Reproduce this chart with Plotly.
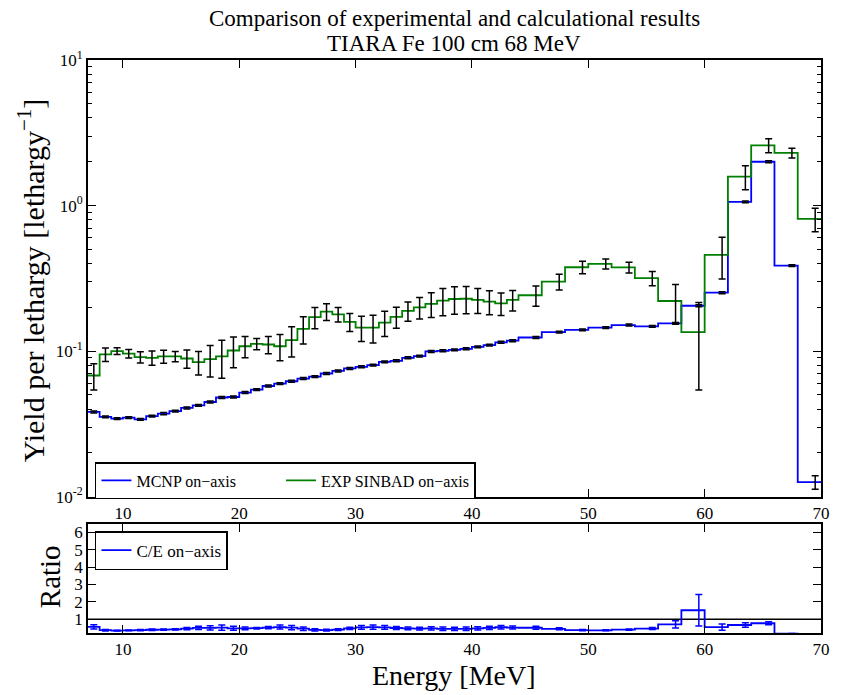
import math
import plotly.graph_objects as go

# Energy bin edges [MeV]: 1 MeV bins up to 44 MeV, 2 MeV bins above
bin_edges = [7, 8, 9, 10, 11, 12, 13, 14, 15, 16, 17, 18, 19, 20, 21, 22, 23, 24, 25,
             26, 27, 28, 29, 30, 31, 32, 33, 34, 35, 36, 37, 38, 39, 40, 41, 42, 43, 44,
             46, 48, 50, 52, 54, 56, 58, 60, 62, 64, 66, 68, 70]

# MCNP on-axis yield per lethargy and its uncertainty
mcnp_yield = [0.0382, 0.0353, 0.0344, 0.0349, 0.0340, 0.0358, 0.0372, 0.0387, 0.0407, 0.0424,
              0.0447, 0.0480, 0.0484, 0.0519, 0.0544, 0.0576, 0.0598, 0.0621, 0.0648, 0.0668,
              0.0702, 0.0731, 0.0760, 0.0780, 0.0801, 0.0844, 0.0858, 0.0900, 0.0924, 0.0995,
              0.1005, 0.1020, 0.1037, 0.1070, 0.1100, 0.1150, 0.1180,
              0.124, 0.135, 0.140, 0.145, 0.151, 0.148, 0.155, 0.205, 0.252, 1.06, 2.00, 0.387, 0.0126]
mcnp_err = [0.0006, 0.0005, 0.0005, 0.0005, 0.0005, 0.0005, 0.0006, 0.0006, 0.0006, 0.0006,
            0.0007, 0.0007, 0.0007, 0.0008, 0.0008, 0.0009, 0.0009, 0.0009, 0.0010, 0.0010,
            0.0011, 0.0011, 0.0011, 0.0012, 0.0012, 0.0013, 0.0013, 0.0014, 0.0014, 0.0015,
            0.0015, 0.0015, 0.0016, 0.0016, 0.0017, 0.0017, 0.0018,
            0.0019, 0.0020, 0.0021, 0.0022, 0.0023, 0.0022, 0.0023, 0.0031, 0.0038, 0.016, 0.030,
            0.0058, 0.00135]

# SINBAD experimental on-axis yield per lethargy and its uncertainty
exp_yield = [0.068, 0.095, 0.100, 0.096, 0.091, 0.090, 0.092, 0.092, 0.089, 0.084,
             0.088, 0.092, 0.101, 0.108, 0.112, 0.111, 0.108, 0.119, 0.142, 0.171,
             0.187, 0.179, 0.159, 0.145, 0.145, 0.157, 0.172, 0.189, 0.200, 0.211,
             0.222, 0.228, 0.229, 0.225, 0.219, 0.213, 0.225,
             0.242, 0.300, 0.377, 0.398, 0.376, 0.317, 0.221, 0.135, 0.459, 1.58, 2.59, 2.30, 0.809]
exp_err = [0.014, 0.010, 0.0053, 0.0064, 0.008, 0.010, 0.0093, 0.0074, 0.0128, 0.0155,
           0.0215, 0.027, 0.024, 0.018, 0.010, 0.015, 0.022, 0.028, 0.030, 0.0285,
           0.0245, 0.0205, 0.0225, 0.0285, 0.0315, 0.031, 0.0285, 0.0285, 0.034, 0.041,
           0.047, 0.0485, 0.0485, 0.044, 0.041, 0.0375, 0.036,
           0.0385, 0.0375, 0.0375, 0.031, 0.0315, 0.0355, 0.0655, 0.081, 0.146, 0.295, 0.285,
           0.175, 0.1475]

# error bars sit half an MeV below each bin's upper edge
err_x = [e - 0.5 for e in bin_edges[1:]]

# calculated-to-experimental ratio with propagated uncertainty
ratio = [c / e for c, e in zip(mcnp_yield, exp_yield)]
ratio_err = [r * math.sqrt((dc / c) ** 2 + (de / e) ** 2)
             for r, c, dc, e, de in zip(ratio, mcnp_yield, mcnp_err, exp_yield, exp_err)]

x_ticks = [10, 20, 30, 40, 50, 60, 70]
y_ticks = [0.01, 0.1, 1, 10]
y_ticktext = ["10<sup>-2</sup>", "10<sup>-1</sup>", "10<sup>0</sup>", "10<sup>1</sup>"]
ratio_ticks = [1, 2, 3, 4, 5, 6]

BLUE = "#0000ff"
GREEN = "#008000"
FONT = "Liberation Serif, DejaVu Serif, Times New Roman, serif"

# plotting area in pixels (left, top, width, height)
PLOT_L, PLOT_T, PLOT_W, PLOT_H = 88, 60, 737, 573


def to_paper(px, py):
    return (px - PLOT_L) / PLOT_W, 1 - (py - PLOT_T) / PLOT_H


def step_xy(values):
    return bin_edges, list(values) + [values[-1]]


fig = go.Figure()

# non-breaking spaces keep the two legend entries apart
sx, sy = step_xy(mcnp_yield)
fig.add_trace(go.Scatter(x=sx, y=sy, mode="lines", line=dict(color=BLUE, width=1.8, shape="hv"),
                         name="MCNP on\u2212axis" + "\u00a0" * 10,
                         xaxis="x", yaxis="y", legend="legend"))
sx, sy = step_xy(exp_yield)
fig.add_trace(go.Scatter(x=sx, y=sy, mode="lines", line=dict(color=GREEN, width=1.8, shape="hv"),
                         name="EXP SINBAD on\u2212axis", xaxis="x", yaxis="y", legend="legend"))

for vals, errs in ((mcnp_yield, mcnp_err), (exp_yield, exp_err)):
    fig.add_trace(go.Scatter(x=err_x, y=vals, mode="markers", marker=dict(size=1, opacity=0),
                             error_y=dict(type="data", array=errs, color="black",
                                          thickness=1.5, width=3.5),
                             showlegend=False, hoverinfo="skip", xaxis="x", yaxis="y"))

# ratio panel
fig.add_trace(go.Scatter(x=[7, 70], y=[1, 1], mode="lines", line=dict(color="black", width=1.5),
                         showlegend=False, hoverinfo="skip", xaxis="x2", yaxis="y2"))
sx, sy = step_xy(ratio)
fig.add_trace(go.Scatter(x=sx, y=sy, mode="lines", line=dict(color=BLUE, width=1.8, shape="hv"),
                         name="C/E on\u2212axis", xaxis="x2", yaxis="y2", legend="legend2"))
fig.add_trace(go.Scatter(x=err_x, y=ratio, mode="markers", marker=dict(size=1, opacity=0),
                         error_y=dict(type="data", array=ratio_err, color=BLUE,
                                      thickness=1.5, width=3.5),
                         showlegend=False, hoverinfo="skip", xaxis="x2", yaxis="y2"))

axis_common = dict(showline=True, linecolor="black", linewidth=1.8, mirror="allticks",
                   ticks="inside", ticklen=8, tickwidth=1, tickcolor="black",
                   showgrid=False, zeroline=False,
                   tickfont=dict(family=FONT, size=17, color="black"))

minor_vals = [m * 10 ** p for p in (-2, -1, 0) for m in range(2, 10)]


def text_note(text, px, py, size, angle=0):
    x, y = to_paper(px, py)
    return dict(text=text, x=x, y=y, xref="paper", yref="paper", xanchor="center",
                yanchor="middle", showarrow=False, textangle=angle,
                font=dict(family=FONT, size=size, color="black"))


notes = [
    text_note("Comparison of experimental and calculational results", 456, 18, 23),
    text_note("TIARA Fe 100 cm 68 MeV", 456, 43, 23),
    text_note("Yield per lethargy [lethargy<sup>\u22121</sup>]", 31, 280, 30, -90),
    text_note("Ratio", 50, 577, 29, -90),
    text_note("Energy [MeV]", 456, 675, 28),
]

fig.update_layout(
    width=842, height=695,
    margin=dict(l=PLOT_L, r=842 - PLOT_L - PLOT_W, t=PLOT_T, b=695 - PLOT_T - PLOT_H),
    paper_bgcolor="white", plot_bgcolor="white",
    font=dict(family=FONT, color="black"),
    xaxis=dict(domain=[0, 1], anchor="y", range=[7, 70], tickvals=x_ticks, **axis_common),
    yaxis=dict(domain=[0.2379, 1], anchor="x", type="log", range=[-2, 1],
               tickvals=y_ticks, ticktext=y_ticktext,
               minor=dict(tickvals=minor_vals, ticks="inside", ticklen=4, tickcolor="black"),
               **axis_common),
    xaxis2=dict(domain=[0, 1], anchor="y2", range=[7, 70], tickvals=x_ticks, **axis_common),
    yaxis2=dict(domain=[0, 0.1902], anchor="x2", range=[0.21, 6.48], tickvals=ratio_ticks,
                **axis_common),
    legend=dict(x=0.0095, y=0.2984, xref="paper", yref="paper", xanchor="left", yanchor="top",
                orientation="h", bgcolor="white", bordercolor="black", borderwidth=1.5,
                font=dict(family=FONT, size=16, color="black")),
    legend2=dict(x=0.0095, y=0.178, xref="paper", yref="paper", xanchor="left", yanchor="top",
                 bgcolor="white", bordercolor="black", borderwidth=1.5,
                 font=dict(family=FONT, size=17, color="black")),
    annotations=notes,
)

fig.write_html("out.html")
